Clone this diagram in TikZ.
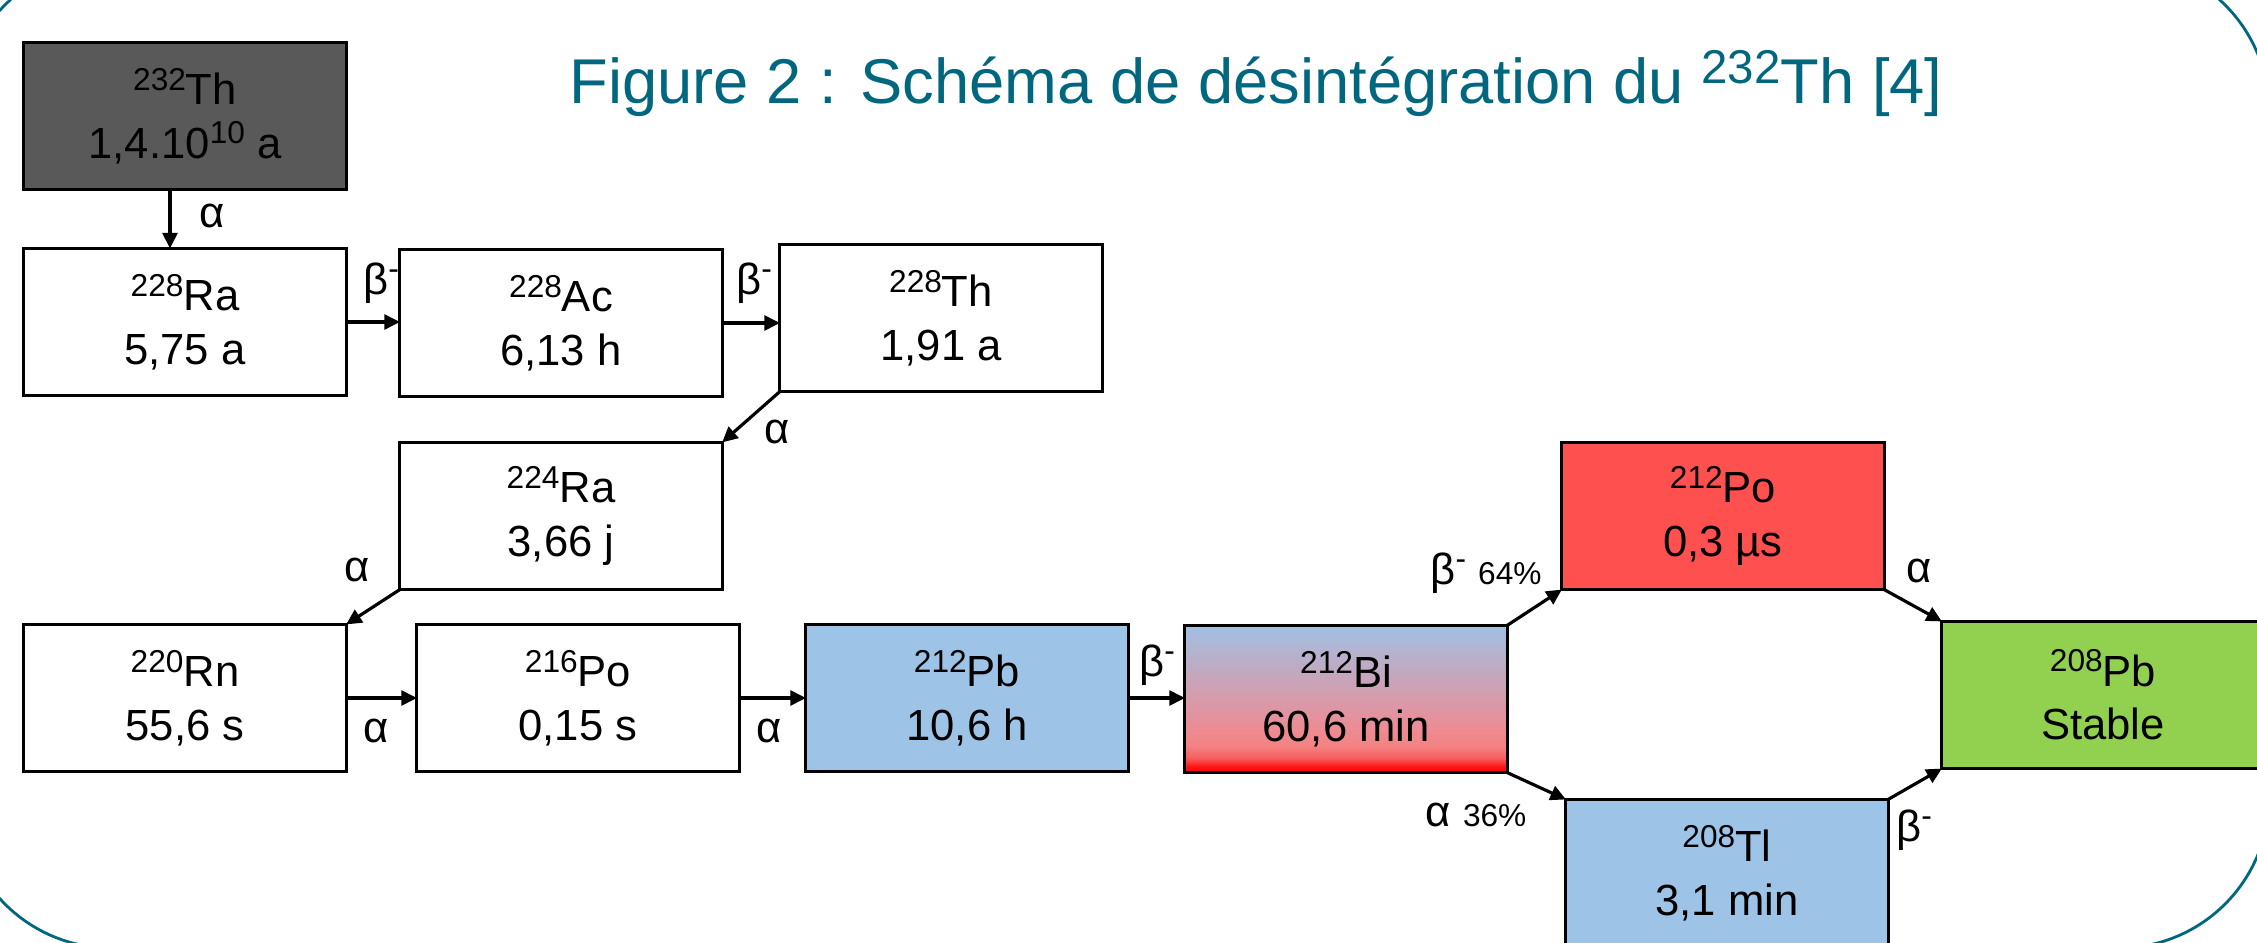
\documentclass[tikz,border=0pt]{standalone}
\usepackage{fontspec}
\setmainfont{Liberation Sans}
\usetikzlibrary{arrows.meta}
\definecolor{frameteal}{RGB}{0,103,127}
\definecolor{thgray}{HTML}{595959}
\definecolor{lblue}{HTML}{9DC3E6}
\definecolor{pored}{HTML}{FF5050}
\definecolor{pbgreen}{HTML}{92D050}
\definecolor{bitop}{HTML}{A0C0E4}
\definecolor{bipink}{HTML}{F48282}
\definecolor{bipinkb}{HTML}{EC8C94}
\definecolor{bired}{HTML}{FF0000}
\definecolor{biredb}{HTML}{FF1414}
\definecolor{biredc}{HTML}{F85E5E}
\newcommand{\pctsize}{\fontsize{9}{10}\selectfont}
\newcommand{\supnum}[1]{\raisebox{0.33em}{\fontsize{9}{10}\selectfont #1}}
\pgfdeclareverticalshading{bishade}{100bp}{color(0bp)=(bired); color(25bp)=(bired); color(27bp)=(biredb); color(30bp)=(biredc); color(34bp)=(bipink); color(40bp)=(bipinkb); color(75bp)=(bitop); color(100bp)=(bitop)}
\tikzset{
  iso/.style={draw=black, line width=0.85pt, minimum width=3.22cm, minimum height=1.47cm,
    align=center, inner sep=0pt, outer sep=0pt, font=\fontsize{12.4}{15.2}\selectfont},
  decay/.style={line width=0.9pt, -{Triangle[length=4.4pt,width=4.2pt]}},
  lab/.style={font=\fontsize{12.4}{14}\selectfont, inner sep=0pt}
}
\begin{document}
\begin{tikzpicture}[x=0.01cm,y=-0.01cm]
\useasboundingbox (0,0) rectangle (2257,943);
\draw[frameteal, line width=0.8pt, rounded corners=1.5cm] (-39,-39) rectangle (2269,948);

\node[font=\fontsize{18}{21}\selectfont, text=frameteal, anchor=base west, inner sep=0pt] (title) at (569,104)
  {Figure 2 : Schéma de désintégration du \raisebox{0.33em}{\fontsize{13.5}{14}\selectfont 232}Th [4]};

\node[iso, fill=thgray] (th232) at (185,116) {\supnum{232}Th\\1,4.10\supnum{10} a};
\node[iso] (ra228) at (185,322) {\supnum{228}Ra\\5,75 a};
\node[iso] (ac228) at (561,323) {\supnum{228}Ac\\6,13 h};
\node[iso] (th228) at (941,318) {\supnum{228}Th\\1,91 a};
\node[iso] (ra224) at (561,516) {\supnum{224}Ra\\3,66 j};
\node[iso] (rn220) at (185,698) {\supnum{220}Rn\\55,6 s};
\node[iso] (po216) at (578,698) {\supnum{216}Po\\0,15 s};
\node[iso, fill=lblue] (pb212) at (967,698) {\supnum{212}Pb\\10,6 h};
\node[iso, shade, shading=bishade] (bi212) at (1346,699) {\supnum{212}Bi\\60,6 min};
\node[iso, fill=pored] (po212) at (1723,516) {\supnum{212}Po\\0,3 µs};
\node[iso, fill=pbgreen] (pb208) at (2103,695) {\supnum{208}Pb\\Stable};
\node[iso, fill=lblue] (tl208) at (1727,873) {\supnum{208}Tl\\3,1 min};

\draw[decay] ([xshift=-0.15cm]th232.south) -- ([xshift=-0.15cm]th232.south |- ra228.north);
\draw[decay] (ra228.east) -- (ac228.west |- ra228.east);
\draw[decay] (ac228.east) -- (th228.west |- ac228.east);
\draw[decay] (th228.south west) -- (ra224.north east);
\draw[decay] (ra224.south west) -- (rn220.north east);
\draw[decay] (rn220.east) -- (po216.west);
\draw[decay] (po216.east) -- (pb212.west);
\draw[decay] (pb212.east) -- (bi212.west |- pb212.east);
\draw[decay] (bi212.north east) -- (po212.south west);
\draw[decay] (bi212.south east) -- (tl208.north west);
\draw[decay] (po212.south east) -- (pb208.north west);
\draw[decay] (tl208.north east) -- (pb208.south west);

\node[lab] (l1) at (212,216) {α};
\node[lab] (l2) at (381,283) {β\supnum{-}};
\node[lab] (l3) at (754,283) {β\supnum{-}};
\node[lab] (l4) at (777,432) {α};
\node[lab] (l5) at (357,570) {α};
\node[lab] (l6) at (376,731) {α};
\node[lab] (l7) at (769,731) {α};
\node[lab] (l8) at (1157,665) {β\supnum{-}};
\node[lab] (l9) at (1486,573) {β\supnum{-} {\pctsize 64\%}};
\node[lab] (l10) at (1476,815) {α {\pctsize 36\%}};
\node[lab] (l11) at (1919,571) {α};
\node[lab] (l12) at (1914,830) {β\supnum{-}};
\end{tikzpicture}
\end{document}
